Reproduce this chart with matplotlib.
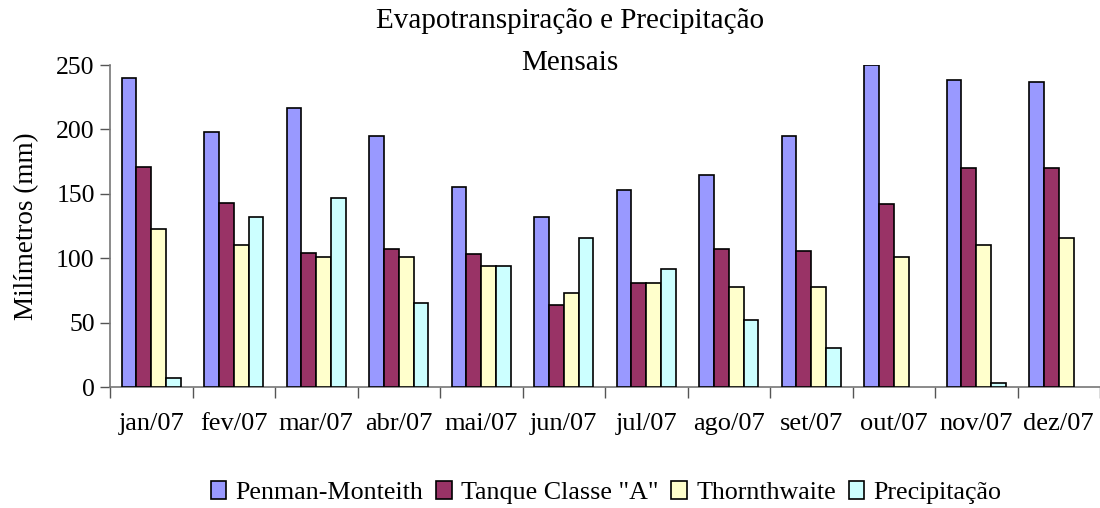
import numpy as np
import matplotlib
matplotlib.use('Agg')
import matplotlib.pyplot as plt

plt.rcParams['font.family'] = ['Liberation Serif', 'DejaVu Serif']

months = ['jan/07', 'fev/07', 'mar/07', 'abr/07', 'mai/07', 'jun/07',
          'jul/07', 'ago/07', 'set/07', 'out/07', 'nov/07', 'dez/07']
penman = [240, 198, 217, 195, 155, 132, 153, 165, 195, 250, 238, 237]
tanque = [171, 143, 104, 107, 103, 64, 81, 107, 106, 142, 170, 170]
thornthwaite = [123, 110, 101, 101, 94, 73, 81, 78, 78, 101, 110, 116]
precip = [7, 132, 147, 65, 94, 116, 92, 52, 30, 0, 3, 0]

series = [('Penman-Monteith', penman, '#9999FF'),
          ('Tanque Classe "A"', tanque, '#993366'),
          ('Thornthwaite', thornthwaite, '#FFFFCC'),
          ('Precipitação', precip, '#CCFFFF')]

fig = plt.figure(figsize=(11, 5.08), dpi=100)
ax = fig.add_axes([0.1, 0.238, 0.9, 0.634])

x = np.arange(len(months))
w = 0.18
for i, (name, vals, col) in enumerate(series):
    # zero values are not drawn at all in the original
    lws = [1.2 if v > 0 else 0 for v in vals]
    ax.bar(x + (i - 1.5) * w, vals, width=w, color=col, edgecolor='black',
           linewidth=lws, label=name, zorder=3)

ax.set_xlim(-0.5, len(months) - 0.5)
ax.set_ylim(0, 250)
ax.set_yticks([0, 50, 100, 150, 200, 250])
ax.set_xticks(np.arange(len(months) + 1) - 0.5, minor=False)
ax.set_xticklabels([])
ax.set_xticks(x, minor=True)
ax.set_xticklabels(months, minor=True)
ax.tick_params(axis='x', which='minor', length=0, pad=19, labelsize=19)
ax.tick_params(axis='x', which='major', length=8, width=1, color='#555555')
ax.tick_params(axis='y', length=7, width=1, color='#555555', labelsize=18.5, pad=4)

for s in ['top', 'right']:
    ax.spines[s].set_visible(False)
for s in ['left', 'bottom']:
    ax.spines[s].set_color('#777777')
    ax.spines[s].set_linewidth(1.2)

ax.set_ylabel('Milímetros (mm)', fontsize=19.5, labelpad=12)
fig.text(0.518, 0.958, 'Evapotranspiração e Precipitação', ha='center',
         va='center', fontsize=21)
fig.text(0.518, 0.875, 'Mensais', ha='center', va='center', fontsize=21)

fig.legend(loc='center', bbox_to_anchor=(0.551, 0.03), ncol=4, frameon=False,
           fontsize=18.7, handlelength=0.6, handleheight=0.7, handletextpad=0.35,
           columnspacing=0.5)

fig.savefig('out.png', dpi=100)
